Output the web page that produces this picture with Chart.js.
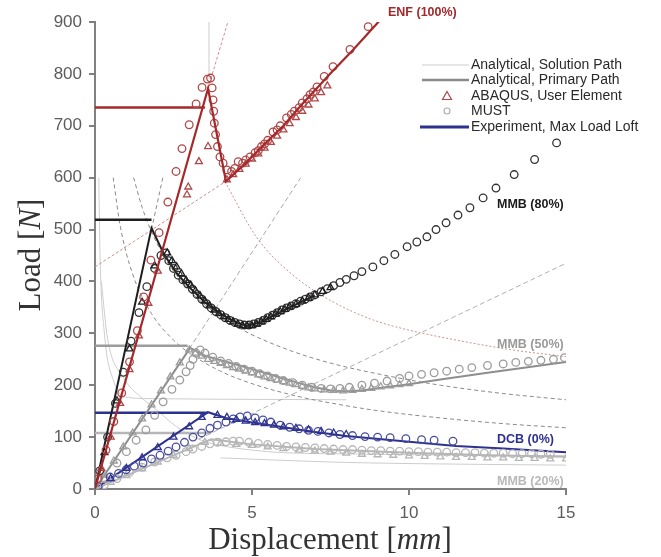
<!DOCTYPE html>
<html><head><meta charset="utf-8">
<script src="https://cdn.jsdelivr.net/npm/chart.js@4.4.1/dist/chart.umd.min.js"></script>
<style>html,body{margin:0;padding:0;background:#fff;}#wrap{width:661px;height:557px;position:relative;}</style>
</head><body><div id="wrap"><canvas id="c" width="661" height="557"></canvas></div>
<script>
// ---------- axes ----------
const xRange = [0, 15];
const yRange = [0, 900];
const xStep = 5, yStep = 100;

// ---------- ENF (100%) ----------
const enfPrimary = [[0,0],[3.6,772],[4.17,593],[4.8,628],[5.35,662],[6.0,700],[6.53,737],[7.0,768],[7.48,800],[8.2,845],[9.1,905]];
const enfMust = [[0.1,20],[0.35,75],[0.6,130],[0.85,185],[1.1,245],[1.35,305],[1.55,370],[1.78,441],[2.04,494],[2.32,553],[2.58,612],[2.77,656],[3.0,702],[3.22,742],[3.41,774],[3.58,790],[3.68,792],[3.73,773],[3.76,750],[3.78,728],[3.8,705],[3.84,683],[3.9,660],[3.98,640],[4.08,628],[4.2,615],[4.35,612],[4.45,618],[4.56,631],[4.7,628],[4.8,634],[4.94,640],[5.1,648],[5.2,652],[5.3,660],[5.4,665],[5.5,672],[5.67,688],[5.8,692],[5.9,700],[6.1,715],[6.25,722],[6.35,728],[6.5,735],[6.6,744],[6.75,752],[6.85,760],[6.95,765],[7.07,775],[7.3,795],[7.58,814],[8.12,847],[8.7,891]];
const enfAbaqus = [[0.2,40],[0.5,100],[0.8,165],[1.1,230],[1.4,295],[1.7,358],[2.0,420],[2.93,567],[2.97,582],[3.31,631],[3.6,660],[4.2,596],[4.4,606],[4.6,616],[4.8,626],[5.0,636],[5.2,646],[5.4,657],[5.6,668],[5.8,680],[6.0,692],[6.2,704],[6.4,716],[6.6,728],[6.8,740],[7.0,752],[7.2,764],[7.4,777]];
const enfExperiment = [[0,735],[3.5,735]];
const enfSolA = [[0,428],[4.17,593]];
const enfSolB = [[3.6,772],[4.28,910]];
const enfSolC = [[4.14,592],[5.16,484],[6.21,417],[7.48,364],[8.85,326],[9.94,307],[11.5,287],[13.3,268],[15,255]];
const enfSolV = [[3.63,790],[3.63,900]];

// ---------- MMB (80%) ----------
const m80Primary = [[0,0],[1.8,503],[2.2,452],[2.6,416],[3.0,389],[3.5,360],[4.0,337],[4.5,321],[4.84,314],[5.3,322],[5.8,338],[6.2,350],[7.0,373]];
const m80Must = [[0.15,35],[0.4,100],[0.65,165],[0.9,225],[1.15,285],[1.4,340],[1.65,390],[1.9,425],[2.1,450],[2.25,455],[2.35,440],[2.5,425],[2.65,412],[2.8,403],[2.95,395],[3.1,385],[3.25,375],[3.4,366],[3.55,357],[3.7,349],[3.85,342],[4.0,336],[4.15,330],[4.3,325],[4.45,321],[4.6,318],[4.75,316],[4.9,316],[5.05,318],[5.2,321],[5.35,325],[5.5,330],[5.65,335],[5.8,340],[5.95,345],[6.1,349],[6.25,353],[6.4,357],[6.55,362],[6.7,366],[6.85,370],[7.0,374],[7.2,380],[7.4,386],[7.6,392],[7.8,398],[8.0,404],[8.25,411],[8.5,419],[8.85,428],[9.2,440],[9.55,452],[9.94,467],[10.25,476],[10.57,486],[10.86,500],[11.18,513],[11.56,528],[11.94,542],[12.36,561],[12.77,580],[13.35,606],[14.0,635],[14.7,667]];
const m80Abaqus = [[0.3,70],[0.7,170],[1.1,270],[1.5,360],[1.9,430],[2.3,455],[2.45,440],[2.6,428],[2.75,415],[2.9,402],[3.05,393],[3.2,382],[3.35,372],[3.5,362],[3.65,353],[3.8,345],[3.95,338],[4.1,332],[4.25,327],[4.4,322],[4.55,318],[4.7,315],[4.85,314],[5.0,315],[5.15,318],[5.3,322],[5.45,327],[5.6,332],[5.75,337],[5.9,342],[6.05,346],[6.2,351],[6.4,356],[6.6,362],[6.8,368],[7.0,374],[7.25,381],[7.5,388]];
const m80Experiment = [[0,519],[1.8,519]];
const m80Sol = [[1.23,600],[1.5,543],[1.8,496],[2.2,448],[2.8,397],[3.5,355],[4.3,321],[4.84,302],[6.21,267],[7.48,243],[9.08,221],[11,200],[13,184],[15,172]];
const m80Ext = [[1.8,500],[2.16,600]];

// ---------- MMB (50%) ----------
const m50Primary = [[0,0],[3.03,272],[3.5,257],[4,248],[4.5,240],[5,231],[5.5,222],[6,213],[6.5,204],[7,196],[7.5,190],[8,188],[8.5,190],[9,194],[10,202],[11,211],[12.5,224],[15,245]];
const m50Must = [[0.3,20],[0.7,50],[1.0,72],[1.31,94],[1.62,114],[1.9,142],[2.17,168],[2.45,192],[2.7,210],[2.9,226],[3.03,238],[3.12,250],[3.22,262],[3.35,268],[3.5,262],[3.75,254],[4.0,247],[4.25,242],[4.5,236],[4.75,231],[5.0,227],[5.25,222],[5.5,218],[5.75,213],[6.0,209],[6.3,205],[6.6,200],[6.9,196],[7.2,194],[7.5,193],[7.8,194],[8.1,196],[8.5,200],[8.9,204],[9.3,208],[9.7,213],[10.0,218],[10.4,221],[10.8,224],[11.2,227],[11.6,231],[12.0,234],[12.5,238],[13.0,241],[13.4,244],[13.8,246],[14.2,248],[14.6,250],[14.95,253]];
const m50Abaqus = [[0.3,27],[0.6,54],[0.9,81],[1.2,108],[1.5,135],[1.8,162],[2.1,189],[2.4,216],[2.7,243],[3.0,268],[3.2,262],[3.4,256],[3.6,250],[3.8,246],[4.0,242],[4.2,238],[4.4,234],[4.6,231],[4.8,227],[5.0,224],[5.2,220],[5.4,216],[5.6,213],[5.8,210],[6.0,207],[6.2,204],[6.4,201],[6.6,198],[6.8,195],[7.0,193],[7.3,191],[7.6,190],[7.9,189],[8.2,190],[8.5,192],[8.8,194],[9.1,197],[9.4,199],[9.7,201],[10,203]];
const m50Experiment = [[0,276],[2.95,276]];
const m50Sol = [[0.58,600],[0.8,508],[1.2,414],[1.8,338],[2.5,287],[3.03,261],[4,227],[5,203],[6.5,178],[7.48,166],[9,151],[11,137],[13,126],[15,118]];
const m50Ext = [[3.0,270],[6.55,600]];

// ---------- DCB (0%) ----------
const dcbPrimary = [[0,0],[3.6,148],[4.17,137],[5.0,128],[5.9,120],[7.0,110],[8.0,102],[10.0,91],[11.5,83],[13.0,78],[15,71]];
const dcbMust = [[0.1,5],[0.48,23],[0.75,30],[0.99,37],[1.25,44],[1.53,50],[1.8,58],[2.07,65],[2.33,73],[2.58,81],[2.85,90],[3.12,100],[3.4,108],[3.66,117],[3.9,123],[4.17,129],[4.4,135],[4.62,139],[4.85,141],[5.1,137],[5.35,133],[5.6,129],[5.9,123],[6.2,119],[6.5,116],[6.8,113],[7.1,111],[7.45,108],[7.8,105],[8.2,103],[8.6,101],[9.0,100],[9.4,99],[9.9,97],[10.4,95],[10.8,94],[11.4,92]];
const dcbAbaqus = [[0.5,20],[1.0,40],[1.5,60],[2.0,80],[2.5,100],[3.0,120],[3.4,138],[3.9,142],[4.2,138],[4.5,134],[4.8,131],[5.1,128],[5.4,126],[5.7,123],[6.0,120],[6.4,117],[6.8,114],[7.2,111],[7.6,108],[8.0,105]];
const dcbExperiment = [[0,147],[3.6,147]];

// ---------- MMB (20%) ----------
const m20Primary = [[0,0],[3.7,96],[5,86],[7,77],[10,70],[12.5,65],[15,62]];
const m20Must = [[0.3,8],[0.7,20],[1.1,32],[1.5,42],[1.9,52],[2.3,60],[2.58,65],[2.9,72],[3.12,77],[3.4,82],[3.66,87],[3.9,90],[4.17,91],[4.4,92],[4.6,92],[4.9,90],[5.2,88],[5.5,86],[5.8,84],[6.1,82],[6.4,81],[6.7,80],[7,79],[7.3,78],[7.6,77],[7.9,76],[8.2,76],[8.5,75],[8.8,74],[9.1,74],[9.4,73],[9.7,73],[10,72],[10.3,72],[10.6,71],[10.9,71],[11.2,71],[11.5,70],[11.8,70],[12.1,70],[12.4,69],[12.7,69],[13,69],[13.3,68],[13.6,68],[13.9,68],[14.2,67],[14.5,67]];
const m20Abaqus = [[0.5,13],[1,26],[1.5,39],[2,52],[2.5,65],[3,78],[3.5,90],[4.0,88],[4.5,86],[5,84],[5.5,81],[6,78],[6.5,75],[7,73],[7.5,71],[8,69],[8.5,67],[9,66],[9.5,65],[10,64],[10.5,63],[11,62],[11.5,61],[12,61],[12.5,60],[13,60],[13.5,59],[14,59],[14.5,58],[15,58]];
const m20Experiment = [[0,108],[3.7,108]];
const m20Ext = [[3.3,96],[15,435]];

// ---------- light analytical solution paths ----------
const solA = [[0.12,600],[0.16,450],[0.3,300],[0.58,210],[1.1,176],[2,174],[4,173],[8,172]];
const solB = [[0.2,400],[0.4,290],[0.89,216],[1.5,175],[1.97,152],[2.6,120],[3.34,95],[4,84],[5,75],[6,70],[7.5,68],[10,66],[15,64]];
const solC = [[4,60],[7.5,52],[10,49],[15,46]];

// ---------- text ----------
const legendLabels = ['Analytical, Solution Path','Analytical, Primary Path','ABAQUS, User Element','MUST','Experiment, Max Load Loft'];
const seriesLabels = ['ENF (100%)','MMB (80%)','MMB (50%)','DCB (0%)','MMB (20%)'];

// ---------- colours ----------
const RED='#a5282b', REDM='#b04848', REDL='#cf8f8f', BLACK='#1e1e1e', G50='#8e8e8e', G50M='#9c9c9c', BLUE='#2d3190', G20='#b6b6b6', LIGHT='#cdcdcd', DASH='#8a8a8a';

const pts = a => a.map(p => ({x:p[0], y:p[1]}));
function line(d, color, w, dash, order, curve){
  return {data:pts(d), showLine:true, borderColor:color, borderWidth:w, borderDash:dash||[], pointRadius:0, fill:false, order:order, tension:0, cubicInterpolationMode: curve?'monotone':'default'};
}
function marks(d, color, style, order, r){
  return {data:pts(d), showLine:false, pointStyle:style, pointRadius:r||3.8, pointBorderWidth:1.3, pointBorderColor:color, pointBackgroundColor:'rgba(255,255,255,0)', order:order};
}

const datasets = [
  line(solA, LIGHT, 1, [], 20, true),
  line(solB, LIGHT, 1, [], 20, true),
  line(solC, LIGHT, 1, [], 20, true),
  line(enfSolV, LIGHT, 1, [], 20),
  line(m80Sol, DASH, 1, [4,3], 19, true),
  line(m50Sol, DASH, 1, [4,3], 19, true),
  line(m80Ext, DASH, 1, [4,3], 19),
  line(m50Ext, '#a8a8a8', 1, [5,3], 19),
  line(m20Ext, '#b0b0b0', 1, [5,3], 19),
  line(enfSolA, REDL, 1, [3,2], 19),
  line(enfSolB, REDL, 1, [3,2], 19),
  line(enfSolC, REDL, 1, [2,2], 19, true),
  line(enfExperiment, RED, 2.5, [], 15),
  line(m80Experiment, BLACK, 2.5, [], 15),
  line(m50Experiment, G50M, 2.5, [], 15),
  line(dcbExperiment, BLUE, 2.5, [], 15),
  line(m20Experiment, G20, 2.5, [], 15),
  line(m20Primary, G20, 2, [], 12),
  line(m50Primary, G50, 2, [], 12),
  line(dcbPrimary, BLUE, 2, [], 12),
  line(m80Primary, BLACK, 2, [], 12),
  marks(m20Abaqus, G20, 'triangle', 10, 4),
  marks(m20Must, G20, 'circle', 10),
  marks(m50Abaqus, G50M, 'triangle', 9, 4),
  marks(m50Must, G50M, 'circle', 9),
  marks(dcbAbaqus, BLUE, 'triangle', 8, 4),
  marks(dcbMust, '#4a4f9e', 'circle', 8),
  marks(m80Abaqus, BLACK, 'triangle', 7, 4),
  marks(m80Must, '#333', 'circle', 7),
  marks(enfAbaqus, REDM, 'triangle', 6, 4),
  marks(enfMust, REDM, 'circle', 6),
  line(enfPrimary, RED, 2.2, [], 1)
];

function mixed(ctx, parts, x, y){
  let w = 0;
  parts.forEach(p => { ctx.font = p[1]; w += ctx.measureText(p[0]).width; });
  let cx = x - w/2;
  parts.forEach(p => { ctx.font = p[1]; ctx.fillText(p[0], cx, y); cx += ctx.measureText(p[0]).width; });
}

const overlay = {
  id:'overlay',
  afterDraw(chart){
    const ctx = chart.ctx;
    ctx.save();
    const lx0 = 422, lx1 = 469, tx = 471, ys = [65,80,96,111,127];
    ctx.strokeStyle = LIGHT; ctx.lineWidth = 1.2;
    ctx.beginPath(); ctx.moveTo(lx0, ys[0]); ctx.lineTo(lx1, ys[0]); ctx.stroke();
    ctx.strokeStyle = '#8a8a8a'; ctx.lineWidth = 2.5;
    ctx.beginPath(); ctx.moveTo(lx0, ys[1]); ctx.lineTo(lx1, ys[1]); ctx.stroke();
    ctx.strokeStyle = REDM; ctx.lineWidth = 1.2;
    ctx.beginPath(); ctx.moveTo(447, ys[2]-4.5); ctx.lineTo(451.5, ys[2]+3.5); ctx.lineTo(442.5, ys[2]+3.5); ctx.closePath(); ctx.stroke();
    ctx.strokeStyle = '#b0b0b0'; ctx.lineWidth = 1.2;
    ctx.beginPath(); ctx.arc(447, ys[3], 3, 0, Math.PI*2); ctx.stroke();
    ctx.strokeStyle = BLUE; ctx.lineWidth = 3;
    ctx.beginPath(); ctx.moveTo(lx0-2, ys[4]); ctx.lineTo(lx1, ys[4]); ctx.stroke();
    ctx.fillStyle = '#2a2a2a'; ctx.font = '14px "Liberation Sans", Arial, sans-serif';
    ctx.textAlign = 'left'; ctx.textBaseline = 'middle';
    legendLabels.forEach((t,i) => ctx.fillText(t, tx, ys[i]));
    const lab = [[388,13,RED],[497,205,'#1a1a1a'],[497,345,'#9a9a9a'],[497,440,BLUE],[497,482,'#b8b8b8']];
    ctx.font = 'bold 12.5px "Liberation Sans", Arial, sans-serif';
    seriesLabels.forEach((t,i) => { ctx.fillStyle = lab[i][2]; ctx.fillText(t, lab[i][0], lab[i][1]); });
    ctx.fillStyle = '#333'; ctx.textBaseline = 'alphabetic'; ctx.textAlign = 'left';
    const serif = '"Liberation Serif", "Times New Roman", serif';
    mixed(ctx, [['Displacement [', '31px '+serif], ['mm', 'italic 31px '+serif], [']', '31px '+serif]], 330, 549);
    ctx.save();
    ctx.translate(40, 255); ctx.rotate(-Math.PI/2);
    mixed(ctx, [['Load [', '31px '+serif], ['N', 'italic 31px '+serif], [']', '31px '+serif]], 0, 0);
    ctx.restore();
    ctx.restore();
  }
};

const axisCommon = {
  grid:{drawOnChartArea:false, drawTicks:true, tickLength:6, color:'#808080', lineWidth:2},
  border:{color:'#808080', width:2}
};

new Chart(document.getElementById('c'), {
  type:'scatter',
  data:{datasets:datasets},
  options:{
    responsive:false, animation:false, devicePixelRatio:1,
    layout:{padding:{left:0, right:95, top:22, bottom:0}},
    plugins:{legend:{display:false}, tooltip:{enabled:false}},
    scales:{
      x:Object.assign({type:'linear', min:xRange[0], max:xRange[1],
        ticks:{stepSize:xStep, color:'#5c5c5c', font:{family:'"Liberation Sans", Arial', size:17}, padding:8, maxRotation:0},
        afterFit(s){ s.height = 68; }}, axisCommon),
      y:Object.assign({type:'linear', min:yRange[0], max:yRange[1],
        ticks:{stepSize:yStep, color:'#5c5c5c', font:{family:'"Liberation Sans", Arial', size:17}, padding:7},
        afterFit(s){ s.width = 95; }}, axisCommon)
    }
  },
  plugins:[overlay]
});
</script></body></html>
